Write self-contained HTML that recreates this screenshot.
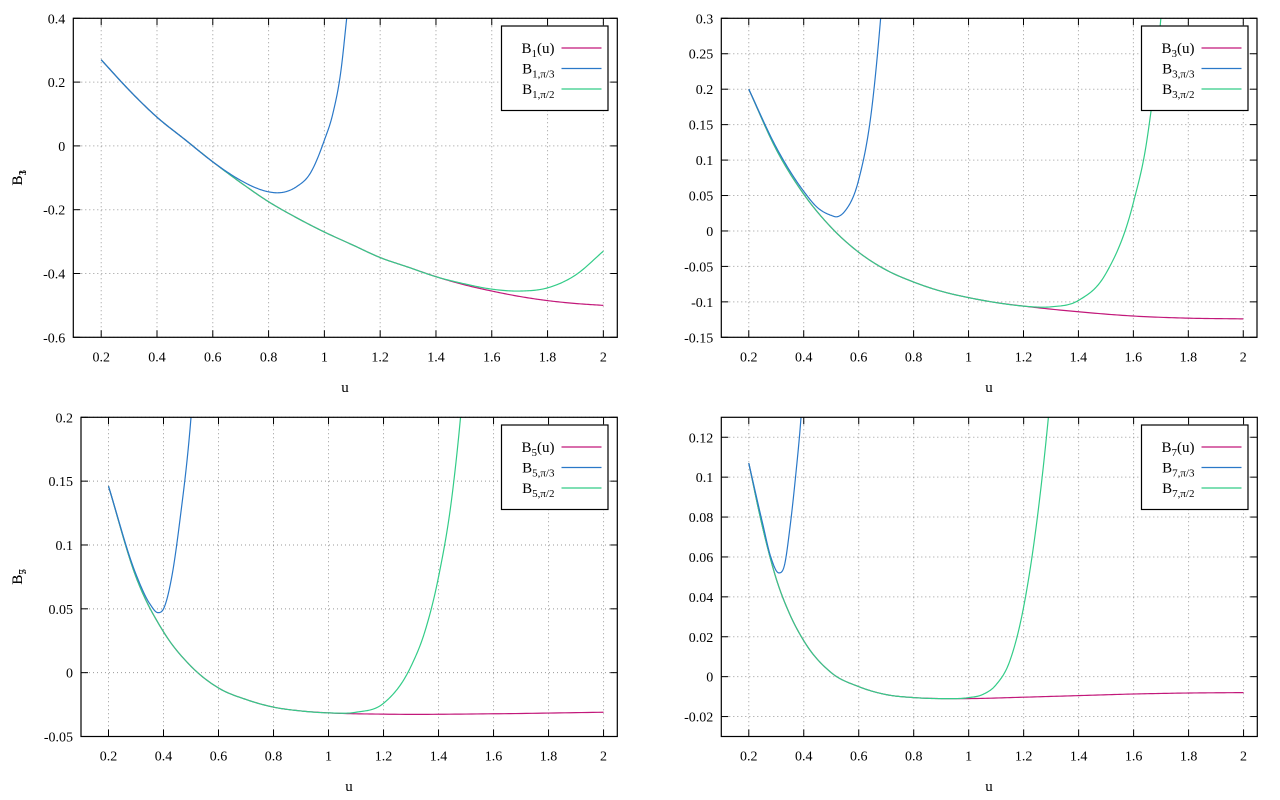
<!DOCTYPE html>
<html><head><meta charset="utf-8">
<style>
html,body{margin:0;padding:0;background:#fff;}
svg{display:block;}
svg text{font-family:"Liberation Serif","DejaVu Serif",serif;}
</style></head>
<body>
<svg id="chart" width="1280" height="800" viewBox="0 0 1280 800" xmlns="http://www.w3.org/2000/svg" font-family="Liberation Serif, serif"></svg>
<script>
// ---- data arrays ----
const xTicks = [0.2,0.4,0.6,0.8,1,1.2,1.4,1.6,1.8,2];
const xTickLabels = ["0.2","0.4","0.6","0.8","1","1.2","1.4","1.6","1.8","2"];

const p1YTicks = [-0.6,-0.4,-0.2,0,0.2,0.4];
const p1YLabels = ["-0.6","-0.4","-0.2","0","0.2","0.4"];
const p1U = [0.2,0.3,0.4,0.5,0.6,0.7,0.8,0.9,1.0,1.1,1.2,1.3,1.4,1.5,1.6,1.7,1.8,1.9,2.0];
const p1B = [0.27,0.175,0.09,0.02,-0.05,-0.115,-0.175,-0.225,-0.27,-0.31,-0.35,-0.38,-0.41,-0.435,-0.455,-0.472,-0.485,-0.494,-0.5];
const p1BlueU = [0.2,0.3,0.4,0.5,0.6,0.7,0.75,0.8,0.83,0.86,0.9,0.95,1.0,1.03,1.06,1.08,1.1];
const p1BlueV = [0.27,0.175,0.09,0.02,-0.05,-0.108,-0.13,-0.144,-0.147,-0.144,-0.128,-0.085,0.018,0.1,0.24,0.4,0.56];
const p1GreenU = [0.2,0.3,0.4,0.5,0.6,0.7,0.8,0.9,1.0,1.1,1.2,1.3,1.4,1.5,1.6,1.7,1.8,1.9,2.0];
const p1GreenV = [0.27,0.175,0.09,0.02,-0.05,-0.115,-0.175,-0.225,-0.27,-0.31,-0.35,-0.38,-0.41,-0.432,-0.449,-0.455,-0.445,-0.405,-0.33];

const p2YTicks = [-0.15,-0.1,-0.05,0,0.05,0.1,0.15,0.2,0.25,0.3];
const p2YLabels = ["-0.15","-0.1","-0.05","0","0.05","0.1","0.15","0.2","0.25","0.3"];
const p2U = [0.2,0.3,0.4,0.5,0.6,0.7,0.8,0.9,1.0,1.1,1.2,1.4,1.6,1.8,2.0];
const p2B = [0.2,0.115,0.052,0.005,-0.03,-0.055,-0.072,-0.085,-0.094,-0.101,-0.106,-0.114,-0.12,-0.123,-0.124];
const p2BlueU = [0.2,0.3,0.4,0.45,0.5,0.52,0.55,0.6,0.65,0.68,0.7];
const p2BlueV = [0.2,0.118,0.056,0.033,0.022,0.02,0.028,0.072,0.18,0.3,0.4];
const p2GreenU = [0.2,0.3,0.4,0.5,0.6,0.7,0.8,0.9,1.0,1.1,1.2,1.3,1.4,1.5,1.6,1.65,1.7,1.72];
const p2GreenV = [0.2,0.115,0.052,0.005,-0.03,-0.055,-0.072,-0.085,-0.094,-0.101,-0.106,-0.107,-0.098,-0.06,0.04,0.13,0.3,0.4];

const p3YTicks = [-0.05,0,0.05,0.1,0.15,0.2];
const p3YLabels = ["-0.05","0","0.05","0.1","0.15","0.2"];
const p3U = [0.2,0.3,0.4,0.5,0.6,0.7,0.8,0.9,1.0,1.2,1.6,2.0];
const p3B = [0.146,0.075,0.032,0.005,-0.012,-0.021,-0.027,-0.03,-0.0315,-0.0325,-0.0322,-0.031];
const p3BlueU = [0.2,0.3,0.35,0.38,0.4,0.43,0.46,0.5,0.52];
const p3BlueV = [0.146,0.077,0.054,0.047,0.05,0.075,0.12,0.2,0.26];
const p3GreenU = [0.2,0.3,0.4,0.5,0.6,0.7,0.8,0.9,1.0,1.1,1.2,1.3,1.35,1.4,1.45,1.48,1.5];
const p3GreenV = [0.146,0.075,0.032,0.005,-0.012,-0.021,-0.027,-0.03,-0.0315,-0.031,-0.024,0.005,0.032,0.075,0.14,0.2,0.25];

const p4YTicks = [-0.02,0,0.02,0.04,0.06,0.08,0.1,0.12];
const p4YLabels = ["-0.02","0","0.02","0.04","0.06","0.08","0.1","0.12"];
const p4U = [0.2,0.25,0.3,0.35,0.4,0.5,0.6,0.7,0.8,0.9,1.0,1.2,1.4,1.6,1.8,2.0];
const p4B = [0.107,0.075,0.049,0.031,0.018,0.002,-0.005,-0.009,-0.0105,-0.011,-0.011,-0.0103,-0.0095,-0.0087,-0.0082,-0.008];
const p4BlueU = [0.2,0.25,0.28,0.31,0.33,0.35,0.37,0.39,0.4];
const p4BlueV = [0.107,0.077,0.06,0.052,0.056,0.075,0.1,0.13,0.15];
const p4GreenU = [0.2,0.25,0.3,0.35,0.4,0.5,0.6,0.7,0.8,0.9,1.0,1.05,1.1,1.15,1.2,1.25,1.29,1.31];
const p4GreenV = [0.107,0.075,0.049,0.031,0.018,0.002,-0.005,-0.009,-0.0105,-0.011,-0.0105,-0.009,-0.004,0.008,0.035,0.08,0.13,0.16];

const colMag = "#c2187a", colBlue = "#2a78c8", colGreen = "#33cc88";

const panels = [
  {id:1,L:73.3,R:617.3,T:18.3,B:337.3,ymin:-0.6,ymax:0.4,yt:p1YTicks,yl:p1YLabels,
   s:[[p1U,p1B],[p1BlueU,p1BlueV],[p1GreenU,p1GreenV]],leg:[501.5,26],lx:345,ly:392},
  {id:3,L:721.3,R:1257,T:18.3,B:337.3,ymin:-0.15,ymax:0.3,yt:p2YTicks,yl:p2YLabels,
   s:[[p2U,p2B],[p2BlueU,p2BlueV],[p2GreenU,p2GreenV]],leg:[1141.5,26],lx:989,ly:392},
  {id:5,L:81,R:617.3,T:417.3,B:736.5,ymin:-0.05,ymax:0.2,yt:p3YTicks,yl:p3YLabels,
   s:[[p3U,p3B],[p3BlueU,p3BlueV],[p3GreenU,p3GreenV]],leg:[501.5,425],lx:349,ly:791},
  {id:7,L:721.3,R:1257.3,T:417.3,B:736.5,ymin:-0.03,ymax:0.13,yt:p4YTicks,yl:p4YLabels,
   s:[[p4U,p4B],[p4BlueU,p4BlueV],[p4GreenU,p4GreenV]],leg:[1141.5,425],lx:989,ly:791}
];
const XMIN=0.1, XMAX=2.05;
const NS="http://www.w3.org/2000/svg";
const FONT="Liberation Serif, DejaVu Serif, serif";
const svg=document.getElementById('chart');
function mk(tag,attrs,parent){const e=document.createElementNS(NS,tag);for(const k in attrs)e.setAttribute(k,attrs[k]);(parent||svg).appendChild(e);return e;}
// cubic Hermite (nonuniform) sampled densely in data space
function sampleCurve(u,v){
  const n=u.length,m=[];
  for(let i=0;i<n;i++){
    if(i===0)m.push((v[1]-v[0])/(u[1]-u[0]));
    else if(i===n-1)m.push((v[n-1]-v[n-2])/(u[n-1]-u[n-2]));
    else{
      const h0=u[i]-u[i-1],h1=u[i+1]-u[i];
      const d0=(v[i]-v[i-1])/h0,d1=(v[i+1]-v[i])/h1;
      m.push((h1*d0+h0*d1)/(h0+h1));
    }
  }
  const out=[];
  for(let i=0;i<n-1;i++){
    const h=u[i+1]-u[i];
    const N=20;
    for(let k=0;k<N;k++){
      const t=k/N,t2=t*t,t3=t2*t;
      const y=(2*t3-3*t2+1)*v[i]+(t3-2*t2+t)*h*m[i]+(-2*t3+3*t2)*v[i+1]+(t3-t2)*h*m[i+1];
      out.push([u[i]+t*h,y]);
    }
  }
  out.push([u[n-1],v[n-1]]);
  return out;
}
const cols=[colMag,colBlue,colGreen];
const seriesNames=["exact","pi-over-3","pi-over-2"];
panels.forEach((p,pi)=>{
  const g=mk('g',{});
  
  
  const xs=v=>p.L+(v-XMIN)/(XMAX-XMIN)*(p.R-p.L);
  const ys=v=>p.B-(v-p.ymin)/(p.ymax-p.ymin)*(p.B-p.T);
  const clip=mk('clipPath',{id:'clip'+pi},g);
  mk('rect',{x:p.L,y:p.T,width:p.R-p.L,height:p.B-p.T},clip);
  xTicks.forEach((t,i)=>{
    const x=xs(t);
    const gl=mk('line',{x1:x,x2:x,y1:p.T,y2:p.B,stroke:"#999",'stroke-width':1,'stroke-dasharray':"1,3"},g);
    
    
    mk('line',{x1:x,x2:x,y1:p.B,y2:p.B-7,stroke:"#000",'stroke-width':1},g);
    mk('line',{x1:x,x2:x,y1:p.T,y2:p.T+7,stroke:"#000",'stroke-width':1},g);
    const tl=mk('text',{x:x,y:p.B+24,'text-anchor':'middle','font-size':14,fill:'#000','font-family':FONT},g);
    tl.textContent=xTickLabels[i];
    
    
  });
  p.yt.forEach((t,i)=>{
    const y=ys(t);
    const gl=mk('line',{x1:p.L,x2:p.R,y1:y,y2:y,stroke:"#999",'stroke-width':1,'stroke-dasharray':"1,3"},g);
    
    
    mk('line',{x1:p.L,x2:p.L+7,y1:y,y2:y,stroke:"#000",'stroke-width':1},g);
    mk('line',{x1:p.R,x2:p.R-7,y1:y,y2:y,stroke:"#000",'stroke-width':1},g);
    const tl=mk('text',{x:p.L-8,y:y+5,'text-anchor':'end','font-size':14,fill:'#000','font-family':FONT},g);
    tl.textContent=p.yl[i];
    
    
  });
  const cg=mk('g',{'clip-path':'url(#clip'+pi+')'},g);
  [0,2,1].forEach(si=>{
    const [u,v]=p.s[si];
    const pts=sampleCurve(u,v).map(q=>xs(q[0]).toFixed(2)+","+ys(q[1]).toFixed(2));
    const path=mk('polyline',{points:pts.join(" "),fill:'none',stroke:cols[si],'stroke-width':1.2,'stroke-linejoin':'round'},cg);
    
    
  });
  const fr=mk('rect',{x:p.L,y:p.T,width:p.R-p.L,height:p.B-p.T,fill:'none',stroke:'#000','stroke-width':1.2},g);
  
  
  const xl=mk('text',{x:p.lx,y:p.ly,'text-anchor':'middle','font-size':15,fill:'#000','font-family':FONT},g);
  xl.textContent='u';
  
  
  const cy=(p.T+p.B)/2;
  const yl=mk('text',{x:0,y:0,'text-anchor':'middle','font-size':15,fill:'#000','font-family':FONT,transform:'translate(22,'+cy+') rotate(-90)'},g);
  yl.innerHTML='B<tspan font-size="11" dy="4">'+p.id+'</tspan>';
  
  
  const [lx,ly]=p.leg;
  const lg=mk('g',{},g);
  
  
  mk('rect',{x:lx,y:ly,width:106.5,height:84.5,fill:'#fff',stroke:'#000','stroke-width':1.2},lg);
  const labs=['(u)',',π/3',',π/2'];
  [0,1,2].forEach(k=>{
    const yy=ly+22+k*20.5;
    const e=mk('g',{},lg);
    
    
    const t=mk('text',{x:lx+53,y:yy+5,'text-anchor':'end','font-size':15,fill:'#000','font-family':FONT},e);
    if(k===0) t.innerHTML='B<tspan font-size="11" dy="4">'+p.id+'</tspan><tspan dy="-4">(u)</tspan>';
    else t.innerHTML='B<tspan font-size="11" dy="4">'+p.id+labs[k]+'</tspan>';
    mk('line',{x1:lx+60,x2:lx+100,y1:yy,y2:yy,stroke:cols[k],'stroke-width':1.2},e);
  });
});
</script>
</body></html>
